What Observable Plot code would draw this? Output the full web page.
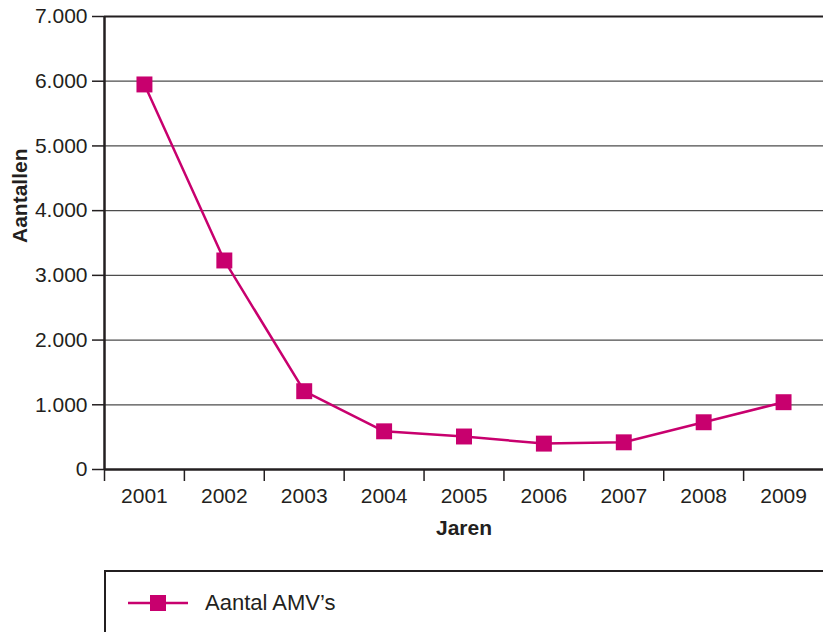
<!DOCTYPE html>
<html>
<head>
<meta charset="utf-8">
<script src="https://cdn.jsdelivr.net/npm/d3@7"></script>
<script src="https://cdn.jsdelivr.net/npm/@observablehq/plot@0.6"></script>
<style>
  html, body { margin: 0; padding: 0; background: #fff; }
  body { font-family: "Liberation Sans", Arial, sans-serif; color: #231f20; width: 823px; height: 632px; overflow: hidden; }
  #legend { margin-top: 22px; margin-left: 104px; height: 80px; border-left: 2px solid #231f20; border-top: 2px solid #231f20; position: relative; }
  #legend svg { position: absolute; left: 20px; top: 20px; }
  #legend span { position: absolute; left: 99px; top: 19px; font-size: 22px; line-height: 24px; }
</style>
</head>
<body>
<div id="chart"></div>
<div id="legend"><svg width="64" height="22"><line x1="2" x2="62" y1="11" y2="11" stroke="#c8006e" stroke-width="2.5"/><rect x="24" y="3" width="16" height="16" fill="#c8006e"/></svg><span>Aantal AMV’s</span></div>
<script>
const years = [2001, 2002, 2003, 2004, 2005, 2006, 2007, 2008, 2009];
const values = [5950, 3230, 1210, 590, 510, 400, 420, 730, 1040];
const yTicks = [0, 1000, 2000, 3000, 4000, 5000, 6000, 7000];
const seriesName = "Aantal AMV’s";

const data = years.map((year, i) => ({year, value: values[i]}));
const nl = d3.formatLocale({decimal: ",", thousands: ".", grouping: [3], currency: ["€", ""]});
const fmt = nl.format(",");
const color = "#c8006e";
const ink = "#231f20";

const chart = Plot.plot({
  width: 823,
  height: 548,
  marginLeft: 104,
  marginRight: 0,
  marginTop: 16,
  marginBottom: 79,
  style: {fontFamily: "Liberation Sans, Arial, sans-serif", fontSize: "21px", color: ink, background: "#fff"},
  x: {type: "linear", domain: [years[0] - 0.5, years[years.length - 1] + 0.5]},
  y: {type: "linear", domain: [0, 7000]},
  marks: [
    Plot.ruleY(yTicks.filter(d => d > 0 && d < 7000), {y: d => d, stroke: "#4d4d4d", strokeWidth: 1.2}),
    Plot.ruleY([7000], {stroke: ink, strokeWidth: 2}),
    Plot.axisY({ticks: yTicks, tickFormat: fmt, tickSize: 12, tickPadding: 5, label: null, stroke: ink, strokeWidth: 1.5, fontSize: 21}),
    Plot.axisX({ticks: years, tickFormat: d => String(d), tickSize: 0, tickPadding: 19, label: null, fontSize: 21}),
    Plot.ruleX(years, {x: d => d - 0.5, y1: 0, y2: 0, insetBottom: -12, stroke: ink, strokeWidth: 1.5}),
    Plot.ruleX([years[0] - 0.5], {stroke: ink, strokeWidth: 2.5}),
    Plot.ruleY([0], {stroke: ink, strokeWidth: 2.5}),
    Plot.line(data, {x: "year", y: "value", stroke: color, strokeWidth: 2.5}),
    Plot.dot(data, {x: "year", y: "value", symbol: "square", r: 9, fill: color, stroke: null}),
    Plot.text(["Jaren"], {frameAnchor: "bottom", dy: 65, fontWeight: "bold", fontSize: 21, fill: ink}),
    Plot.text(["Aantallen"], {frameAnchor: "left", dx: -84, rotate: -90, fontWeight: "bold", fontSize: 21, fill: ink})
  ]
});
document.getElementById("chart").appendChild(chart);
</script>
</body>
</html>
